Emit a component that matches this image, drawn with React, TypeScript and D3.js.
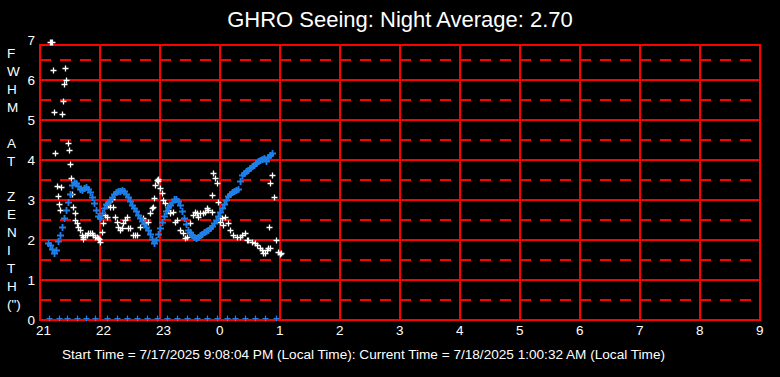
import React, { useEffect } from "react";
import * as d3 from "d3";

const hourLabels = ["21", "22", "23", "0", "1", "2", "3", "4", "5", "6", "7", "8", "9"];
const yTickLabels = ["0", "1", "2", "3", "4", "5", "6", "7"];
const yAxisLetters = ["F", "W", "H", "M", "", "A", "T", "", "Z", "E", "N", "I", "T", "H", "(\")"];
const title = "GHRO Seeing: Night Average: 2.70";
const footer =
  "Start Time = 7/17/2025 9:08:04 PM (Local Time): Current Time = 7/18/2025 1:00:32 AM (Local Time)";

// Blue series: regular samples from 21:08, every 2 minutes
const blueStartMinute = 8;
const blueStepMinutes = 2;
const blueValues = [
  1.93, 1.88, 1.78, 1.68, 1.75, 1.98, 2.13, 2.33, 2.55, 2.75, 2.95, 3.15, 3.38, 3.45, 3.43, 3.35,
  3.28, 3.25, 3.3, 3.33, 3.28, 3.2, 3.08, 2.93, 2.75, 2.6, 2.55, 2.68, 2.8, 2.9, 2.95, 3.0,
  3.08, 3.15, 3.2, 3.23, 3.23, 3.25, 3.23, 3.15, 3.08, 2.98, 2.88, 2.8, 2.73, 2.63, 2.55, 2.48,
  2.4, 2.33, 2.25, 2.15, 2.03, 1.93, 2.0, 2.15, 2.3, 2.45, 2.6, 2.73, 2.83, 2.88, 2.95, 3.03,
  3.03, 2.98, 2.88, 2.73, 2.55, 2.4, 2.25, 2.18, 2.13, 2.08, 2.05, 2.08, 2.13, 2.15, 2.2, 2.23,
  2.25, 2.3, 2.35, 2.43, 2.5, 2.6, 2.7, 2.8, 2.9, 3.0, 3.1, 3.15, 3.2, 3.23, 3.25, 3.28,
  3.48, 3.63, 3.68, 3.73, 3.75, 3.8, 3.85, 3.88, 3.93, 3.98, 4.0, 4.03, 4.05, 3.98, 4.08, 4.13,
  4.18,
];

// Blue markers along the zero line (minutes after 21:00)
const baselineMinutes = [9, 19, 27, 37, 46, 55, 67, 77, 87, 97, 107, 117, 127, 137, 147, 157, 167, 177, 187, 195, 205, 215, 225, 236];
const baselineValue = 0.06;

// White series (minutes after 21:00, FWHM)
const whiteMinutes = [
  10, 11.5, 12, 13.3, 25.3, 26, 24, 23.3, 14.3, 22.3, 28.3, 15.3, 29.3, 30.3, 31.3, 16.7, 21.3, 32.3,
  18.3, 19.3, 33.3, 20.3, 35, 35, 36.7, 38.3, 40, 41.7, 43.3, 42.7, 45, 46.7, 48.3, 50, 51.7, 53.3,
  55, 56.7, 58.3, 59.3, 60, 61.7, 63.3, 65, 66.7, 68.3, 70, 71.7, 73.3, 75, 76.7, 78.3, 80, 81.7,
  83.3, 85, 86.7, 88.3, 90, 93.3, 95, 96.7, 100, 103.3, 105, 108.3, 110, 111.7, 113.3, 114, 115,
  116.7, 118.3, 117.5, 120, 121.7, 123.3, 125, 128.3, 130, 133.3, 135, 136.7, 140, 143.3, 145, 146.7,
  150, 150, 153.3, 155, 156.7, 158.3, 160, 163.3, 165, 166.7, 168.3, 171.7, 173.3, 175, 176.7, 171.7,
  178.3, 180, 181.7, 185, 183.3, 188.3, 190, 193.3, 196.7, 200, 201.7, 205, 206.7, 208.3, 211.7, 215,
  216.7, 220, 221.7, 223.3, 225, 226.7, 228.3, 230, 231.7, 230.3, 234.3, 229.3, 236.3, 238.3, 240, 241,
];
const whiteValues = [
  6.95, 6.96, 6.94, 6.25, 6.29, 6.0, 5.89, 5.48, 5.19, 5.14, 4.42, 4.17, 4.24, 3.89, 3.54, 3.34, 3.32, 3.14,
  3.09, 2.89, 2.82, 2.74, 2.68, 2.5, 2.42, 2.33, 2.25, 2.13, 2.08, 2.03, 2.13, 2.13, 2.17, 2.17, 2.17, 2.13,
  2.08, 2.08, 2.04, 2.02, 1.96, 2.2, 2.42, 2.63, 2.58, 2.88, 2.83, 3.02, 2.83, 2.58, 2.46, 2.33, 2.25, 2.29,
  2.42, 2.5, 2.58, 2.29, 2.29, 2.13, 2.13, 2.13, 2.33, 2.54, 2.42, 2.46, 2.67, 2.79, 2.83, 3.04, 3.38,
  3.5, 3.48, 3.52, 3.29, 3.17, 3.0, 2.92, 2.75, 2.67, 2.71, 2.46, 2.5, 2.25, 2.17, 2.04, 2.08,
  2.21, 2.42, 2.63, 2.71, 2.67, 2.58, 2.67, 2.67, 2.71, 2.79, 2.75, 2.71, 3.67, 3.54, 3.42, 3.13,
  2.96, 2.46, 2.54, 2.58, 2.38, 2.43, 2.25, 2.13, 2.08, 2.08, 2.13, 2.17, 2.0, 2.0, 1.96, 1.92,
  1.88, 1.79, 1.75, 1.67, 1.67, 1.75, 1.79, 1.79, 3.63, 3.43, 3.07, 2.32, 2.0, 1.71, 1.65, 1.67,
];

const W = 780;
const H = 377;
const left = 40;
const right = 760;
const frameTop = 45;
const bottom = 320;

const RED = "#ff0000";
const BLUE = "#1f7fe8";

export default function App() {
  useEffect(() => {
    document.body.style.margin = "0";
    document.body.style.background = "#000";
  }, []);

  const x = d3.scaleLinear().domain([0, 720]).range([left, right]);
  const y = d3.scaleLinear().domain([0, 7]).range([bottom, 40]);

  const snap = (v: number) => Math.round(v) + 0.5;
  const cross = (cx: number, cy: number, r: number) => {
    const a = snap(cx);
    const b = snap(cy);
    return `M${a - r},${b}h${2 * r}M${a},${b - r}v${2 * r}`;
  };

  const hourMinutes = hourLabels.map((_, i) => i * 60);
  const solidLevels = d3.range(0, 7).map((v) => v);
  const dashLevels = d3.range(0, 7).map((v) => v + 0.5);

  const bluePath = blueValues
    .map((v, i) => cross(x(blueStartMinute + i * blueStepMinutes), y(v), 3.5))
    .join("");
  const basePath = baselineMinutes.map((m) => cross(x(m), y(baselineValue), 3)).join("");
  const whitePath = whiteMinutes.map((m, i) => cross(x(m), y(whiteValues[i]), 3)).join("");

  const font = "'Liberation Sans', Arial, sans-serif";
  const gw = 2;

  return (
    <svg
      width={W}
      height={H}
      style={{ position: "absolute", left: 0, top: 0, background: "#000", display: "block" }}
    >
      <rect x={0} y={0} width={W} height={H} fill="#000" />
      <text x={400} y={27} fill="#fff" fontFamily={font} fontSize={22} textAnchor="middle">
        {title}
      </text>

      {/* dashed half-unit lines */}
      {dashLevels.map((v) => (
        <line
          key={"d" + v}
          x1={left}
          x2={right}
          y1={Math.round(y(v))}
          y2={Math.round(y(v))}
          stroke={RED}
          strokeWidth={gw}
          strokeDasharray="11,9"
        />
      ))}
      {/* solid unit lines */}
      {solidLevels.map((v) => (
        <line
          key={"s" + v}
          x1={left}
          x2={right}
          y1={Math.round(y(v))}
          y2={Math.round(y(v))}
          stroke={RED}
          strokeWidth={gw}
        />
      ))}
      <line x1={left} x2={right} y1={frameTop} y2={frameTop} stroke={RED} strokeWidth={gw} />
      {/* vertical hour lines */}
      {hourMinutes.map((m) => (
        <line
          key={"v" + m}
          x1={Math.round(x(m))}
          x2={Math.round(x(m))}
          y1={frameTop - 1}
          y2={bottom + 1}
          stroke={RED}
          strokeWidth={gw}
        />
      ))}

      {/* x tick labels */}
      {hourLabels.map((lab, i) => (
        <text
          key={"xl" + i}
          x={x(hourMinutes[i]) - 4}
          y={335}
          fill="#fff"
          fontFamily={font}
          fontSize={13.5}
        >
          {lab}
        </text>
      ))}
      {/* y tick labels */}
      {yTickLabels.map((lab, i) => (
        <text
          key={"yl" + i}
          x={35}
          y={y(i) + 5}
          fill="#fff"
          fontFamily={font}
          fontSize={13.5}
          textAnchor="end"
        >
          {lab}
        </text>
      ))}
      {/* vertical axis title */}
      {yAxisLetters.map((c, i) => (
        <text
          key={"ya" + i}
          x={7}
          y={53 + i * 17.93 + 5}
          fill="#fff"
          fontFamily={font}
          fontSize={13.5}
        >
          {c}
        </text>
      ))}

      <path d={basePath} stroke={BLUE} strokeWidth={1.2} fill="none" />
      <path d={whitePath} stroke="#fff" strokeWidth={1.3} fill="none" />
      <path d={bluePath} stroke={BLUE} strokeWidth={1.8} fill="none" />

      <text
        x={62}
        y={359}
        fill="#fff"
        fontFamily="'Liberation Sans Narrow', 'Arial Narrow', 'Liberation Sans', sans-serif"
        fontSize={12.5}
        textLength={603}
        lengthAdjust="spacingAndGlyphs"
      >
        {footer}
      </text>
    </svg>
  );
}
